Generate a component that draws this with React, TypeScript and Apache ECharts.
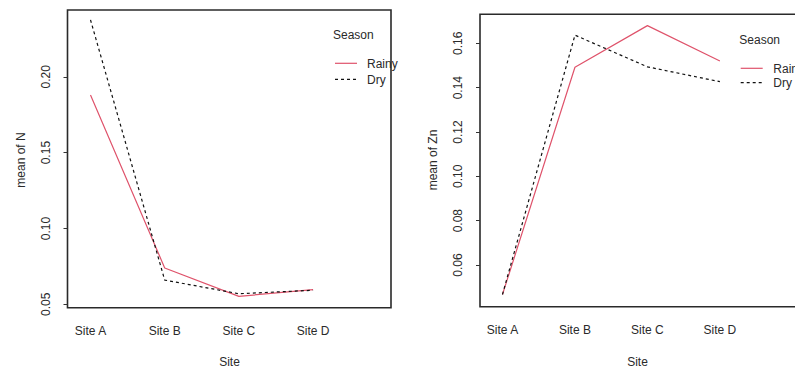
import React, { useEffect, useRef } from "react";
import * as echarts from "echarts";

const sites = ["Site A", "Site B", "Site C", "Site D"];
const seasons = ["Rainy", "Dry"];
const nRainy = [0.188, 0.074, 0.0553, 0.0597];
const nDry = [0.2375, 0.066, 0.057, 0.0593];
const znRainy = [0.0467, 0.1492, 0.168, 0.152];
const znDry = [0.0467, 0.1637, 0.1494, 0.1427];
const nTicks = [0.05, 0.1, 0.15, 0.2];
const znTicks = [0.06, 0.08, 0.1, 0.12, 0.14, 0.16];

const FONT = "Liberation Sans";
const TXT = "#2a2a2a";
const RED = "#DF536B";
const BLACK = "#111";

const toPts = (vals: number[]) => vals.map((v, i) => [i + 1, v]);

export default function App() {
  const ref = useRef<HTMLDivElement>(null);
  useEffect(() => {
    if (!ref.current) return;
    const chart = echarts.init(ref.current, undefined, { renderer: "svg" });
    const xAxisBase = (gridIndex: number) => ({
      type: "value" as const,
      gridIndex,
      min: 0.69,
      max: 5.05,
      axisLine: { show: false },
      axisTick: { show: false },
      splitLine: { show: false },
      axisLabel: {
        customValues: [1, 2, 3, 4],
        formatter: (v: number) => sites[Math.round(v) - 1] ?? "",
        color: TXT,
        fontFamily: FONT,
        fontSize: 12,
        margin: 17,
      },
    });
    const yAxisBase = (gridIndex: number, min: number, max: number, ticks: number[]) => ({
      type: "value" as const,
      gridIndex,
      min,
      max,
      axisLine: { show: false },
      axisTick: { show: true, customValues: ticks, length: 4, lineStyle: { color: "#333" } },
      splitLine: { show: false },
      axisLabel: {
        customValues: ticks,
        rotate: 90,
        formatter: (v: number) => v.toFixed(2),
        color: TXT,
        fontFamily: FONT,
        fontSize: 12,
        margin: 16,
      },
    });
    const lineSeries = (name: string, idx: number, vals: number[], color: string, dashed: boolean) => ({
      type: "line" as const,
      name,
      xAxisIndex: idx,
      yAxisIndex: idx,
      data: toPts(vals),
      symbol: "none",
      lineStyle: { color, width: 1.2, type: dashed ? [3, 3] : "solid" },
    });
    const txt = (text: string, x: number, y: number, rot = 0, align = "center") => ({
      type: "text",
      x,
      y,
      rotation: rot,
      style: { text, fill: TXT, font: `12px "${FONT}"`, align, verticalAlign: "middle" },
    });
    const legend = (x: number, yTitle: number, yR: number, yD: number, tx: number, titleX: number) => [
      txt("Season", titleX, yTitle, 0, "left"),
      { type: "line", shape: { x1: x, y1: yR, x2: x + 22, y2: yR }, style: { stroke: RED, lineWidth: 1.2 } },
      { type: "line", shape: { x1: x, y1: yD, x2: x + 22, y2: yD }, style: { stroke: BLACK, lineWidth: 1.2, lineDash: [3, 3] } },
      txt(seasons[0], tx, yR + 0.5, 0, "left"),
      txt(seasons[1], tx, yD + 0.5, 0, "left"),
    ];
    chart.setOption({
      animation: false,
      grid: [
        { left: 67.5, top: 10, width: 323.5, height: 297.7, show: true, borderColor: "#2a2a2a", borderWidth: 1.6, backgroundColor: "transparent" },
        { left: 480, top: 14.3, width: 316, height: 292.4, show: true, borderColor: "#2a2a2a", borderWidth: 1.6, backgroundColor: "transparent" },
      ],
      xAxis: [xAxisBase(0), xAxisBase(1)],
      yAxis: [yAxisBase(0, 0.0478, 0.244, nTicks), yAxisBase(1, 0.0412, 0.1731, znTicks)],
      series: [
        lineSeries("Rainy", 0, nRainy, RED, false),
        lineSeries("Dry", 0, nDry, BLACK, true),
        lineSeries("Rainy", 1, znRainy, RED, false),
        lineSeries("Dry", 1, znDry, BLACK, true),
      ],
      graphic: [
        txt("mean of N", 21, 160, Math.PI / 2),
        txt("mean of Zn", 432.5, 160, Math.PI / 2),
        txt("Site", 229.5, 361.5),
        txt("Site", 637.5, 361.5),
        ...legend(335, 35, 63.3, 79.3, 367, 333),
        ...legend(740.7, 39.5, 68.3, 82.7, 773.3, 739.3),
      ],
    });
    return () => chart.dispose();
  }, []);
  return (
    <div style={{ position: "fixed", left: 0, top: 0, width: 795, height: 367, overflow: "hidden", background: "#fff" }}>
      <div ref={ref} style={{ width: 800, height: 367 }} />
    </div>
  );
}
